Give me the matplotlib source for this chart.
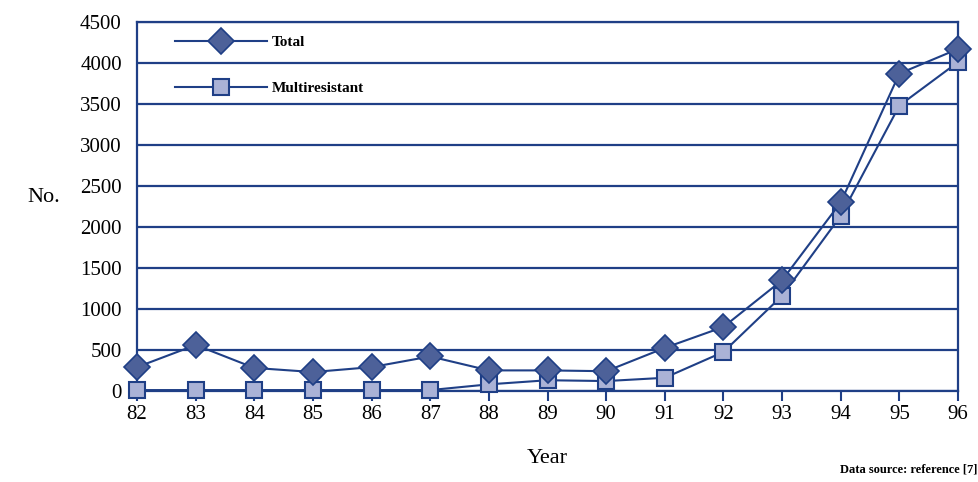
import matplotlib.pyplot as plt

# data
years = [82, 83, 84, 85, 86, 87, 88, 89, 90, 91, 92, 93, 94, 95, 96]
total = [290, 560, 280, 230, 290, 420, 250, 250, 240, 525, 780, 1350, 2300, 3870, 4170]
multires = [10, 10, 10, 10, 10, 10, 80, 130, 120, 160, 475, 1160, 2135, 3480, 4010]
year_labels = [str(y) for y in years]
yticks = list(range(0, 4501, 500))

navy = '#1f3f86'
diamond_fill = '#4d6199'
square_fill = '#aab2d6'

plt.rcParams['font.family'] = ['Liberation Serif', 'DejaVu Serif']

fig = plt.figure(figsize=(9.79, 4.82), dpi=100)
ax = fig.add_axes([0.140, 0.189, 0.8386, 0.7656])

ax.plot(years, total, color=navy, lw=1.5, marker='D', ms=13,
        markerfacecolor=diamond_fill, markeredgecolor=navy, mew=1.2,
        clip_on=False, zorder=4, label='Total')
ax.plot(years, multires, color=navy, lw=1.5, marker='s', ms=12,
        markerfacecolor=square_fill, markeredgecolor=navy, mew=1.5,
        clip_on=False, zorder=3, label='Multiresistant')

ax.set_xlim(82, 96)
ax.set_ylim(0, 4500)
ax.set_xticks(years)
ax.set_xticklabels(year_labels)
ax.set_yticks(yticks)
ax.grid(axis='y', color=navy, lw=1.6)
ax.set_axisbelow(True)

for s in ax.spines.values():
    s.set_color(navy)
    s.set_linewidth(1.6)

ax.tick_params(axis='x', length=7, width=1.5, color=navy, labelsize=15, pad=3)
ax.tick_params(axis='y', length=0, labelsize=15, pad=11)

ax.set_xlabel('Year', fontsize=16, labelpad=18)
fig.text(0.045, 0.59, 'No.', fontsize=16, ha='center', va='center')
fig.text(0.998, 0.025, 'Data source: reference [7]', fontsize=9,
         fontweight='bold', ha='right', va='center')

ax.legend(loc='upper left', bbox_to_anchor=(0.03, 1.0), frameon=False,
          handlelength=6.0, labelspacing=2.1, handletextpad=0.3,
          prop={'weight': 'bold', 'size': 11})

fig.savefig('out.png', dpi=100)
